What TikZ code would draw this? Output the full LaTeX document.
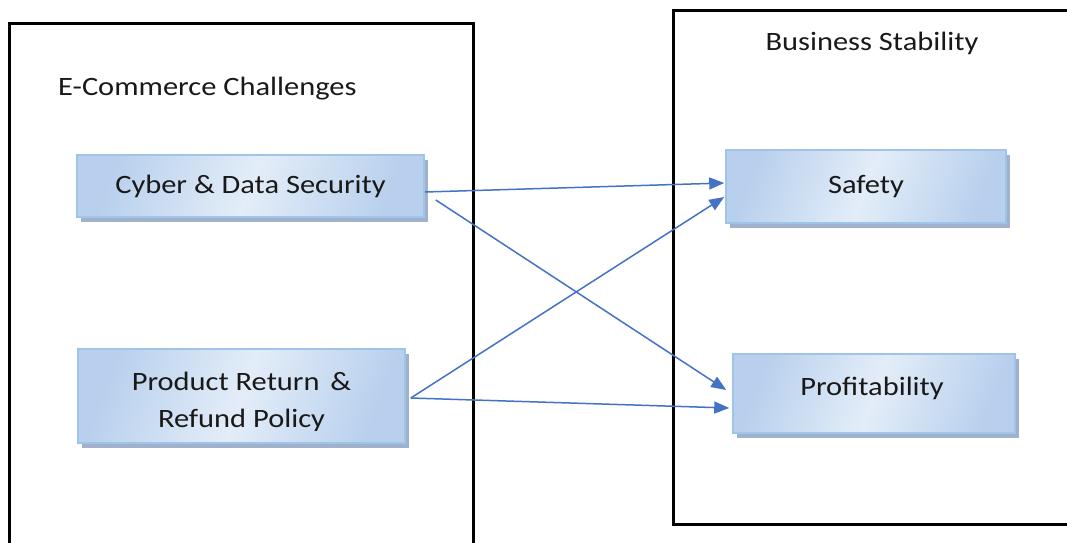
\documentclass[tikz,border=0pt]{standalone}
\usepackage{fontspec}
\setmainfont{Carlito}[FakeStretch=1.15]
\usetikzlibrary{arrows.meta,shadows}

\definecolor{framecol}{RGB}{0,0,0}
\definecolor{linkblue}{RGB}{68,114,196}
\definecolor{boxedge}{RGB}{160,196,231}
\definecolor{boxlight}{RGB}{227,237,248}
\definecolor{boxdark}{RGB}{184,208,237}
\definecolor{boxshadow}{RGB}{150,168,198}
\definecolor{textcol}{RGB}{25,25,25}

\tikzset{
  frame/.style={draw=framecol, line width=3pt},
  heading/.style={font=\fontsize{26.5}{30}\selectfont, text=textcol, inner sep=0pt},
  itembox/.style={draw=boxedge, line width=1.6pt, inner sep=0pt,
    left color=boxdark, right color=boxdark, middle color=boxlight,
    shading angle=70,
    drop shadow={shadow xshift=4pt, shadow yshift=-5pt, fill=boxshadow, opacity=0.9},
    font=\fontsize{26.5}{38}\selectfont, text=textcol, align=center},
  link/.style={draw=linkblue, line width=1.5pt,
    -{Triangle[length=15pt,width=12pt]}},
}

\begin{document}
\begin{tikzpicture}[x=1pt,y=-1pt]
  \useasboundingbox (0,0) rectangle (1067,542);
  \clip (0,0) rectangle (1067,542);

  % outer frames
  \draw[frame] (9,23) rectangle (473,580);
  \draw[frame] (673,10) rectangle (1100,524);

  % frame titles
  \node[heading, anchor=base west] (lefttitle) at (58,95) {E-Commerce Challenges};
  \node[heading, anchor=base] (righttitle) at (872,50) {Business Stability};

  % challenge boxes
  \node[itembox, minimum width=347pt, minimum height=62pt] (cyber) at (250.5,186)
    {Cyber \& Data Security};
  \node[itembox, minimum width=327pt, minimum height=94pt] (refund) at (241.5,396) {};
  \begin{scope}
    \clip (78,349) rectangle (405,430);
    \node[heading, anchor=base] (refundA) at (241.5,390) {Product Return\hspace{4pt} \&};
    \node[heading, anchor=base] (refundB) at (241.5,427) {Refund Policy};
  \end{scope}

  % stability boxes
  \node[itembox, minimum width=280pt, minimum height=73pt] (safety) at (866,186.5) {};
  \node[heading, anchor=base] (safetytxt) at (866,193) {Safety};
  \node[itembox, minimum width=282pt, minimum height=79pt] (profit) at (874,393.5) {};
  \node[heading, anchor=base] (profittxt) at (872,395) {Profitability};

  % connectors
  \draw[link] ([yshift=-6pt]cyber.east) -- ([xshift=-1pt,yshift=3.5pt]safety.west);
  \draw[link] ([xshift=11pt,yshift=-14pt]cyber.east) -- ([xshift=-6pt,yshift=3.5pt]profit.west);
  \draw[link] ([xshift=5pt,yshift=-2pt]refund.east) -- ([xshift=-1pt,yshift=-10.5pt]safety.west);
  \draw[link] ([xshift=5pt,yshift=-2pt]refund.east) -- ([xshift=-3pt,yshift=-14.5pt]profit.west);
\end{tikzpicture}
\end{document}
